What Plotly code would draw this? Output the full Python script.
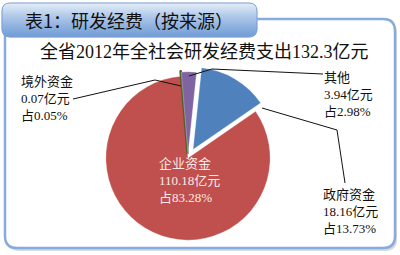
import plotly.graph_objects as go
import numpy as np

W, H = 400, 255

# ---- data ----
labels = ["政府资金", "企业资金", "境外资金", "其他"]
values = [18.16, 110.18, 0.07, 3.94]
amount_text = ["18.16亿元", "110.18亿元", "0.07亿元", "3.94亿元"]
share_text = ["占13.73%", "占83.28%", "占0.05%", "占2.98%"]
colors = ["#4F81BD", "#C0504D", "#4F6228", "#8064A2"]
pulls = [0.12, 0.0, 0.06, 0.05]
tab_title = "表1：研发经费（按来源）"
chart_title = "全省2012年全社会研发经费支出132.3亿元"

FONT = "Liberation Serif, Noto Sans CJK SC, serif"
TABFONT = "Noto Sans CJK SC, sans-serif"


def X(x):
    return x / W


def Y(y):
    return 1 - y / H


def rrect(x0, y0, x1, y1, r):
    return (f"M {X(x0 + r)} {Y(y0)} L {X(x1 - r)} {Y(y0)} Q {X(x1)} {Y(y0)} {X(x1)} {Y(y0 + r)} "
            f"L {X(x1)} {Y(y1 - r)} Q {X(x1)} {Y(y1)} {X(x1 - r)} {Y(y1)} "
            f"L {X(x0 + r)} {Y(y1)} Q {X(x0)} {Y(y1)} {X(x0)} {Y(y1 - r)} "
            f"L {X(x0)} {Y(y0 + r)} Q {X(x0)} {Y(y0)} {X(x0 + r)} {Y(y0)} Z")


def poly(pts):
    s = "M " + " L ".join(f"{X(a)} {Y(b)}" for a, b in pts)
    return s + " Z"


def pline(pts):
    return "M " + " L ".join(f"{X(a)} {Y(b)}" for a, b in pts)


shapes = []
# frame shadow + frame
shapes.append(dict(type="path", xref="paper", yref="paper", path=rrect(7, 22, 397, 251, 12),
                   fillcolor="#d9d9d9", line=dict(width=0), layer="below"))
shapes.append(dict(type="path", xref="paper", yref="paper", path=rrect(5, 19, 395, 248, 12),
                   fillcolor="#ffffff", line=dict(color="#86abdc", width=2.5), layer="below"))

# tab with vertical gradient made of bands
tx0, ty0, tx1, ty1, tr = 2, 3, 257, 37, 8
top_c = np.array([0xe6, 0xef, 0xfa])
bot_c = np.array([0x74, 0x9f, 0xd9])
N = 17


def inset(y):
    if y < ty0 + tr:
        d = ty0 + tr - y
        return tr - np.sqrt(max(tr * tr - d * d, 0))
    if y > ty1 - tr:
        d = y - (ty1 - tr)
        return tr - np.sqrt(max(tr * tr - d * d, 0))
    return 0.0


for i in range(N):
    ya = ty0 + (ty1 - ty0) * i / N
    yb = ty0 + (ty1 - ty0) * (i + 1) / N
    ys = np.linspace(ya, yb, 4)
    left = [(tx0 + inset(y), y) for y in ys]
    right = [(tx1 - inset(y), y) for y in ys[::-1]]
    t = (i + 0.5) / N
    c = top_c * (1 - t) ** 1.2 + bot_c * (1 - (1 - t) ** 1.2)
    col = "rgb(%d,%d,%d)" % tuple(c.astype(int))
    shapes.append(dict(type="path", xref="paper", yref="paper", path=poly(left + right),
                       fillcolor=col, line=dict(color=col, width=0.6), layer="below"))
shapes.append(dict(type="path", xref="paper", yref="paper", path=rrect(tx0, ty0, tx1, ty1, tr),
                   fillcolor="rgba(0,0,0,0)", line=dict(color="#7a9fd3", width=1), layer="below"))

# leader lines
lw = dict(color="#111111", width=1)
shapes.append(dict(type="path", xref="paper", yref="paper", path=pline([(73, 99), (155, 80), (181, 86)]), line=lw))
shapes.append(dict(type="path", xref="paper", yref="paper", path=pline([(323, 74), (212, 69), (189, 76)]), line=lw))
shapes.append(dict(type="path", xref="paper", yref="paper", path=pline([(262, 108), (337, 130), (345, 183)]), line=lw))

fig = go.Figure()
fig.add_trace(go.Pie(
    labels=labels, values=values, sort=False, direction="clockwise", rotation=6,
    marker=dict(colors=colors,
                line=dict(color=["rgba(255,255,255,0.6)", "rgba(255,255,255,0.6)", "#4F6228",
                                 "rgba(255,255,255,0.6)"],
                          width=[0.5, 0.5, 2.5, 0.5])),
    pull=pulls, textinfo="none", hoverinfo="label+value+percent",
    domain=dict(x=[X(96), X(280)], y=[Y(250), Y(66)]), showlegend=False,
))

ann = []
ann.append(dict(x=X(129), y=Y(20), text=tab_title, showarrow=False,
                font=dict(family=TABFONT, size=18, color="#111111"), xanchor="center", yanchor="middle"))
ann.append(dict(x=X(204), y=Y(52), text=chart_title, showarrow=False,
                font=dict(family=FONT, size=18, color="#111111"), xanchor="center", yanchor="middle"))

lab_pos = {0: (321, 211, "#111111"), 1: (157, 180, "#fbe9e9"), 2: (19, 99, "#111111"), 3: (322, 94, "#111111")}
for i, (lx, ly, col) in lab_pos.items():
    ann.append(dict(x=X(lx), y=Y(ly), text=f"{labels[i]}<br>{amount_text[i]}<br>{share_text[i]}",
                    showarrow=False, align="left", xanchor="left", yanchor="middle",
                    font=dict(family=FONT, size=13, color=col)))

fig.update_layout(
    width=W, height=H, margin=dict(l=0, r=0, t=0, b=0),
    paper_bgcolor="#ffffff", plot_bgcolor="#ffffff",
    shapes=shapes, annotations=ann, showlegend=False,
)
fig.write_html("out.html")
